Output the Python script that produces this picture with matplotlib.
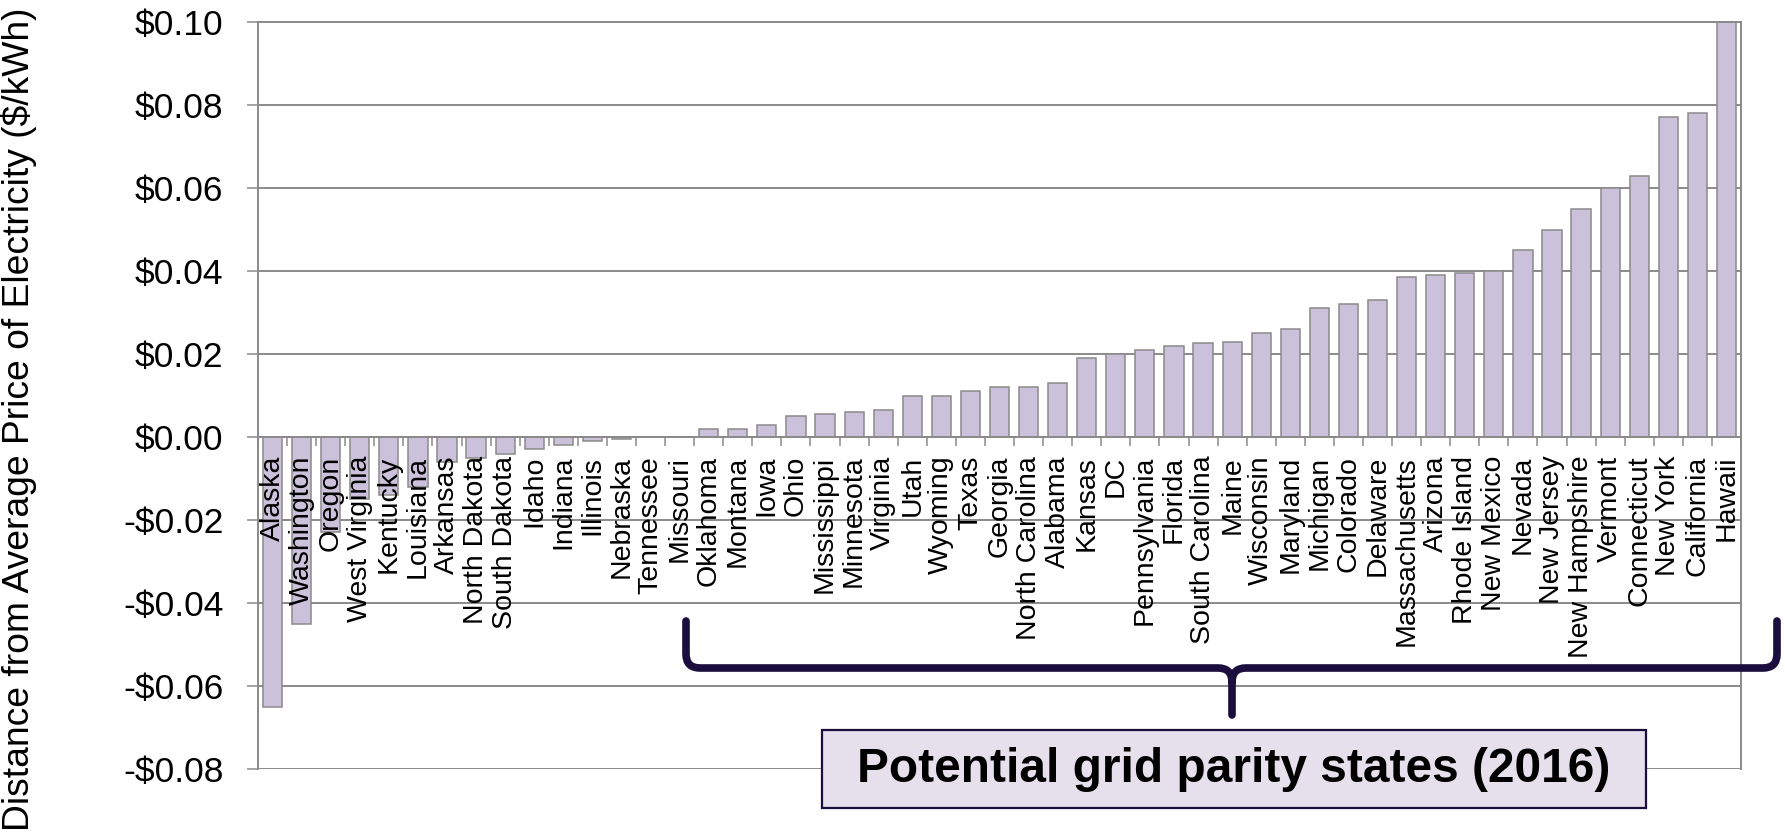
import matplotlib
matplotlib.use('Agg')
import matplotlib.pyplot as plt
from matplotlib.path import Path
from matplotlib.patches import PathPatch, Rectangle
from matplotlib.ticker import FuncFormatter, FixedLocator

plt.rcParams['font.family'] = ['Liberation Sans', 'DejaVu Sans']

# distance from average price of electricity, $/kWh, sorted low to high
states = ['Alaska', 'Washington', 'Oregon', 'West Virginia', 'Kentucky', 'Louisiana',
          'Arkansas', 'North Dakota', 'South Dakota', 'Idaho', 'Indiana', 'Illinois',
          'Nebraska', 'Tennessee', 'Missouri', 'Oklahoma', 'Montana', 'Iowa', 'Ohio',
          'Mississippi', 'Minnesota', 'Virginia', 'Utah', 'Wyoming', 'Texas', 'Georgia',
          'North Carolina', 'Alabama', 'Kansas', 'DC', 'Pennsylvania', 'Florida',
          'South Carolina', 'Maine', 'Wisconsin', 'Maryland', 'Michigan', 'Colorado',
          'Delaware', 'Massachusetts', 'Arizona', 'Rhode Island', 'New Mexico', 'Nevada',
          'New Jersey', 'New Hampshire', 'Vermont', 'Connecticut', 'New York',
          'California', 'Hawaii']
distance = [-0.065, -0.045, -0.023, -0.015, -0.014, -0.012,
            -0.006, -0.005, -0.004, -0.003, -0.002, -0.001,
            -0.0005, 0.0, 0.0, 0.002, 0.002, 0.003, 0.005,
            0.0055, 0.006, 0.0065, 0.010, 0.010, 0.011, 0.012,
            0.012, 0.013, 0.019, 0.020, 0.021, 0.022,
            0.0226, 0.023, 0.025, 0.026, 0.031, 0.032,
            0.033, 0.0386, 0.039, 0.0396, 0.040, 0.045,
            0.050, 0.055, 0.060, 0.063, 0.077,
            0.078, 0.100]
yticks = [-0.08, -0.06, -0.04, -0.02, 0.0, 0.02, 0.04, 0.06, 0.08, 0.10]

W, H = 1785, 832
fig = plt.figure(figsize=(W / 100, H / 100), dpi=100)
ax = fig.add_axes([258 / W, 1 - 769 / H, (1741 - 258) / W, (769 - 22) / H])

grey = '#8a8a8a'
x = list(range(len(states)))
ax.bar(x, distance, width=0.66, color='#ccc1da', edgecolor=grey, linewidth=1.1, zorder=1)

# gridlines behind bars
for t in yticks:
    ax.axhline(t, color=grey, linewidth=1.4, zorder=0.5)

ax.set_xlim(-0.5, len(states) - 0.5)
ax.set_ylim(-0.08, 0.10)
ax.set_yticks(yticks)
ax.yaxis.set_major_formatter(FuncFormatter(lambda v, p: ('-$%.2f' % -v) if v < -1e-9 else '$%.2f' % abs(v)))
ax.tick_params(axis='y', length=8, width=1.1, color=grey, pad=17, labelsize=25.5)

# category axis sits at zero
ax.spines['bottom'].set_position(('data', 0))
for s in ax.spines.values():
    s.set_color(grey)
    s.set_linewidth(1.4)
ax.set_xticks(x)
ax.set_xticklabels(states, rotation=90, va='top', ha='center', fontsize=20.5)
ax.xaxis.set_minor_locator(FixedLocator([i - 0.5 for i in range(len(states) + 1)]))
ax.tick_params(axis='x', which='major', length=0, pad=13.5)
ax.tick_params(axis='x', which='minor', length=6.5, width=1.1, color=grey, direction='out')

fig.text(19 / W, 1 - 419 / H, 'Distance from Average Price of Electricity ($/kWh)',
         rotation=90, ha='center', va='center', fontsize=26.8)


def px(xp, yp):
    return (xp / W, 1 - yp / H)


# curly brace under the grid parity states
brace_col = '#1b0d3d'
top, mid, tip = 621, 668, 715
left, right, cx = 686, 1777, 1232
r = 14
verts = [px(left, top), px(left, mid - r), px(left, mid), px(left + r, mid),
         px(cx - r, mid), px(cx, mid), px(cx, mid + r), px(cx, tip),
         px(cx, mid + r), px(cx, mid), px(cx + r, mid),
         px(right - r, mid), px(right, mid), px(right, mid - r), px(right, top)]
codes = [Path.MOVETO, Path.LINETO, Path.CURVE3, Path.CURVE3,
         Path.LINETO, Path.CURVE3, Path.CURVE3, Path.LINETO,
         Path.MOVETO, Path.CURVE3, Path.CURVE3,
         Path.LINETO, Path.CURVE3, Path.CURVE3, Path.LINETO]
fig.add_artist(PathPatch(Path(verts, codes), transform=fig.transFigure, facecolor='none',
                         edgecolor=brace_col, linewidth=5.5, capstyle='round', joinstyle='round'))

# label box
bx0, by0, bx1, by1 = 822, 730, 1646, 808
fig.add_artist(Rectangle(px(bx0, by1), (bx1 - bx0) / W, (by1 - by0) / H, transform=fig.transFigure,
                         facecolor='#e5e0ec', edgecolor=brace_col, linewidth=1.6))
fig.text((bx0 + bx1) / 2 / W, 1 - (by0 + by1) / 2 / H, 'Potential grid parity states (2016)',
         ha='center', va='center', fontsize=34.5, fontweight='bold')

fig.savefig('out.png', dpi=100)
